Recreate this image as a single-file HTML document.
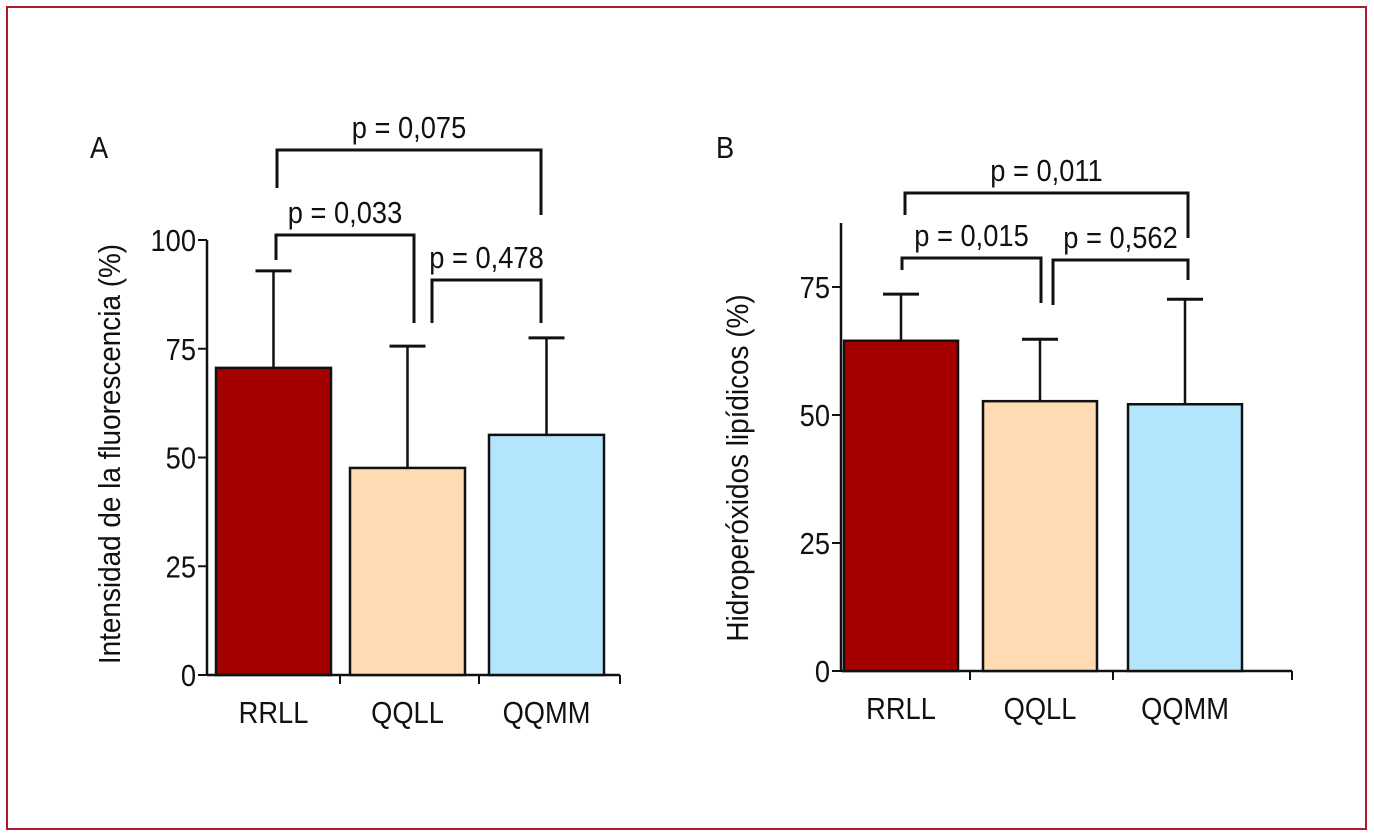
<!DOCTYPE html>
<html><head><meta charset="utf-8"><style>
body{margin:0;background:#fff}
svg text{font-family:"Liberation Sans Narrow","Liberation Sans",sans-serif;fill:#111}
</style></head><body>
<svg id="c" width="1374" height="835" xmlns="http://www.w3.org/2000/svg">
<rect x="7" y="7" width="1359" height="822" fill="#fff" stroke="#b0182c" stroke-width="2"/>
</svg>
<script>
const categories=["RRLL","QQLL","QQMM"];
const colors=["#a50000","#ffdab2","#b3e5fc"];
const meansA=[70.6,47.6,55.2];
const errA=[92.9,75.6,77.5];
const ticksA=[0,25,50,75,100];
const meansB=[64.5,52.7,52.1];
const errB=[73.6,64.8,72.6];
const ticksB=[0,25,50,75];
const NS="http://www.w3.org/2000/svg";
const svg=document.getElementById('c');
function el(t,a,txt){const e=document.createElementNS(NS,t);for(const k in a)e.setAttribute(k,a[k]);if(txt!==undefined)e.textContent=txt;svg.appendChild(e);return e;}
function txt(x,y,anchor,s){return el('text',{x:0,y:0,'text-anchor':anchor,'font-size':31,transform:`translate(${x},${y}) scale(0.88,1)`},s);}
function panel(p){
  const y=v=>p.y0-v*p.k;
  const ax=el('line',{x1:p.ax,y1:y(p.ymax),x2:p.ax,y2:p.y0+1,stroke:'#111','stroke-width':2.5});
  
  
  const xa=el('line',{x1:p.ax,y1:p.y0,x2:p.xend,y2:p.y0,stroke:'#111','stroke-width':2.5});
  
  
  p.xt.forEach(x=>el('line',{x1:x,y1:p.y0,x2:x,y2:p.y0+9,stroke:'#111','stroke-width':2}));
  p.ticks.forEach(v=>{
    el('line',{x1:p.ax-9,y1:y(v),x2:p.ax,y2:y(v),stroke:'#111','stroke-width':2});
    const t=txt(p.ax-11,y(v)+11,'end',v);
    
    
  });
  categories.forEach((c,i)=>{
    const x=p.bx[i];
    const ln=el('line',{x1:x+p.bw/2,y1:y(p.err[i]),x2:x+p.bw/2,y2:y(p.means[i]),stroke:'#111','stroke-width':2.5});
    
    
    el('line',{x1:x+p.bw/2-18,y1:y(p.err[i]),x2:x+p.bw/2+18,y2:y(p.err[i]),stroke:'#111','stroke-width':3});
    const r=el('rect',{x:x,y:y(p.means[i]),width:p.bw,height:p.y0-y(p.means[i]),fill:colors[i],stroke:'#111','stroke-width':2.5});
    
    
    const t=txt(x+p.bw/2,p.y0+48,'middle',c);
    
    
  });
  const yt=el('text',{x:0,y:0,'text-anchor':'middle','font-size':31,transform:`translate(${p.ytx},${p.yty}) rotate(-90) scale(0.9,1)`},p.ytitle);
  
  
  const pl=txt(p.lx,158,'start',p.label);
  
  
  p.br.forEach(b=>{
    const pa=el('path',{d:`M${b[0]},${b[2]} V${b[1]} H${b[3]} V${b[4]}`,fill:'none',stroke:'#111','stroke-width':3});
    
    
    const t=txt((b[0]+b[3])/2,b[1]-12,'middle',b[5]);
    
    
  });
}
panel({y0:675,k:4.35,ax:207,xend:620,xt:[340,479,620],ticks:ticksA,ymax:100,means:meansA,err:errA,bx:[216,350,489],bw:115,
 ytitle:"Intensidad de la fluorescencia (%)",ytx:120,yty:454,label:"A",lx:90,
 br:[[277,150,188,541,215,"p = 0,075"],[276,235,260,414,323,"p = 0,033"],[432,280,323,541,323,"p = 0,478"]]});
panel({y0:671,k:5.12,ax:841,xend:1292,xt:[970,1113,1292],ticks:ticksB,ymax:87.5,means:meansB,err:errB,bx:[844,983,1128],bw:114,
 ytitle:"Hidroperóxidos lipídicos (%)",ytx:748,yty:468,label:"B",lx:716,
 br:[[905,193,215,1188,238,"p = 0,011"],[902,258,270,1041,303,"p = 0,015"],[1053,260,305,1188,280,"p = 0,562"]]});
</script>
</body></html>
